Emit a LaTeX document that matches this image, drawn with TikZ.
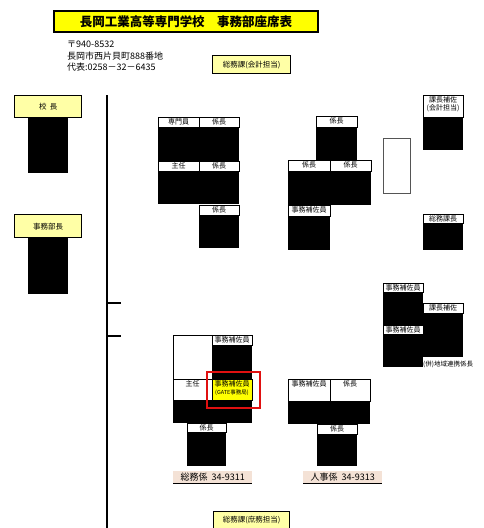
\documentclass[tikz,border=0pt]{standalone}
\usepackage{fontspec}
\setmainfont{Noto Sans CJK JP}
\usetikzlibrary{positioning}
\definecolor{cyellow}{HTML}{FFFF00}
\definecolor{cpale}{HTML}{FFFFA6}
\definecolor{cpeach}{HTML}{F4E2D6}
\definecolor{cred}{HTML}{E01010}
\definecolor{cgrey}{HTML}{555555}
\tikzset{
  seat/.style={fill=black},
  head/.style={draw=black, fill=#1, line width=0.6pt},
  head/.default=white,
  tag/.style={font=\fontsize{7}{8}\selectfont, inner sep=1pt, align=center},
  post/.style={draw=black, fill=cpale, line width=1.4pt, inner sep=0pt, font=\fontsize{7.5}{8.5}\selectfont},
  desk/.style={fill=cpeach, inner sep=0pt, font=\fontsize{9}{10}\selectfont},
  title/.style={draw=black, fill=cyellow, line width=2pt, inner sep=0pt, font=\fontsize{12.5}{14}\selectfont\bfseries},
  addr/.style={align=left, inner sep=0pt, font=\fontsize{9}{11.5}\selectfont},
  spine/.style={line width=1.4pt},
}

\begin{document}
\begin{tikzpicture}[x=1pt, y=-1pt]
  \newcommand{\seat}[8][white]{%
    \fill[seat] (#3,#4) rectangle ++(#5,#7);
    \draw[head=#1] (#3,#4) rectangle ++(#5,#6);
    \node[tag, anchor=north] (#2) at (#3+#5/2,#4) {#8};}
  \useasboundingbox (0,0) rectangle (483,528);

  % heading
  \node[title, minimum width=264pt, minimum height=21pt, anchor=north west] (title) at (53,10)
    {長岡工業高等専門学校　事務部座席表};
  \node[addr, anchor=north west] (addr) at (67,41) {〒940-8532\\長岡市西片貝町888番地\\代表:0258－32－6435};
  \node[post, minimum width=78pt, minimum height=18pt, anchor=north west] (kaikei) at (212,55) {総務課(会計担当)};

  % heads
  \node[post, minimum width=67pt, minimum height=22pt, anchor=north west] (kocho) at (14,95) {校\ \ 長};
  \fill[seat] ([xshift=-20pt]kocho.south) rectangle ++(40,55);
  \node[post, minimum width=67pt, minimum height=23pt, anchor=north west] (bucho) at (14,214) {事務部長};
  \fill[seat] ([xshift=-20pt]bucho.south) rectangle ++(40,56);

  % partition
  \coordinate (top) at (107,95);
  \coordinate (bot) at (107,528);
  \coordinate (t1) at (121,303);
  \coordinate (t2) at (121,336);
  \draw[spine] (top) -- (bot);
  \draw[spine] (t1 -| top) -- (t1);
  \draw[spine] (t2 -| top) -- (t2);

  % kaikei group
  \seat{a11}{158}{117}{41}{10}{44}{専門員}
  \seat{a12}{199}{117}{40}{10}{44}{係長}
  \seat{a21}{158}{161}{41}{10}{43}{主任}
  \seat{a22}{199}{161}{40}{10}{43}{係長}
  \seat{a32}{199}{205}{40}{10}{43}{係長}

  \seat{b1}{316}{116}{41}{11}{44}{係長}
  \seat{b21}{288}{160}{42}{11}{45}{係長}
  \seat{b22}{330}{160}{41}{11}{45}{係長}
  \seat{b31}{288}{205}{42}{11}{45}{事務補佐員}

  \draw[cgrey, line width=0.8pt] (383,138) rectangle (410,193);

  % right column
  \seat{r1}{423}{95}{40}{22}{55}{課長補佐\\(会計担当)}
  \seat{r2}{423}{214}{40}{9}{36}{総務課長}
  \seat{m1}{383}{283}{40}{9}{42}{事務補佐員}
  \seat{m2}{383}{325}{40}{9}{42}{事務補佐員}
  \seat{m3}{423}{303}{40}{10}{54}{課長補佐}
  \node[tag, anchor=west, font=\fontsize{6.5}{7}\selectfont] (renkei) at (422,364) {(併)地域連携係長};

  % somu group
  \draw[head] (173,335) rectangle ++(39,44);
  \seat{c12}{212}{335}{40}{10}{44}{事務補佐員}
  \seat{c21}{173}{379}{39}{21}{44}{主任}
  \seat[cyellow]{c22}{212}{379}{40}{21}{44}{事務補佐員\\{\fontsize{5.5}{7}\selectfont(GATE事務局)}}
  \draw[cred, line width=2.6pt] (207,372) rectangle (260,408);
  \seat{c3}{187}{423}{39}{9}{43}{係長}

  % jinji group
  \seat{d1}{288}{379}{42}{22}{45}{事務補佐員}
  \seat{d2}{330}{379}{40}{22}{45}{係長}
  \seat{d3}{317}{424}{40}{10}{42}{係長}

  % desks
  \node[desk, minimum width=79pt, minimum height=12pt, anchor=north west] (somu) at (173,471) {総務係\ \ 34-9311};
  \draw[line width=1.2pt] (somu.south west) -- (somu.south east);
  \node[desk, minimum width=79pt, minimum height=12pt, anchor=north west] (jinji) at (303,471) {人事係\ \ 34-9313};
  \draw[line width=1.2pt] (jinji.south west) -- (jinji.south east);

  \node[post, minimum width=76pt, minimum height=17pt, anchor=north west] (shomu) at (213,511) {総務課(庶務担当)};
\end{tikzpicture}
\end{document}
